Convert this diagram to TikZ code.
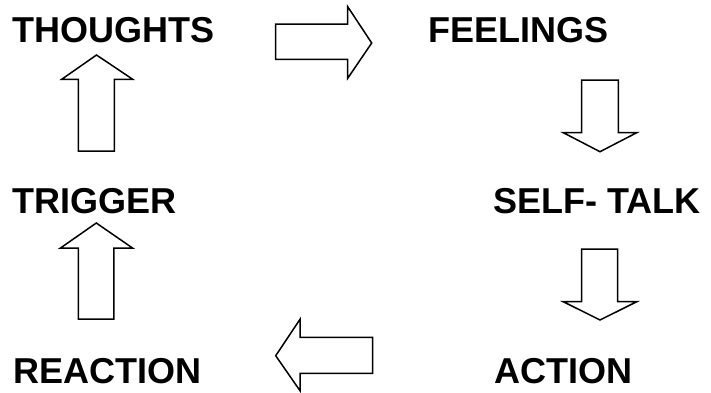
\documentclass[tikz,border=0pt]{standalone}
\usepackage{fontspec}
\setmainfont{Liberation Sans}
\begin{document}
\begin{tikzpicture}[x=1pt,y=-1pt,
        stage/.style={inner sep=0pt, text depth=0pt, anchor=base west, font=\bfseries\fontsize{36}{40}\selectfont},
        blockarrow/.style={draw=black, line width=1.5pt, line join=miter, fill=white}]
        \useasboundingbox (0,0) rectangle (711,392);
        % Etapas del ciclo
        \node[stage] (thoughts) at (12,42) {THOUGHTS};
        \node[stage] (feelings) at (428,42.5) {FEELINGS};
        \node[stage] (selftalk) at (493,213.5) {SELF- TALK};
        \node[stage] (trigger) at (12,213.5) {TRIGGER};
        \node[stage] (reaction) at (13,383.5) {REACTION};
        \node[stage] (action) at (494,383.5) {ACTION};

        % Flechas de bloque
        \draw[blockarrow] (275.7,24) -- (347.7,24) -- (347.7,6.7) -- (371.7,43)
            -- (347.7,78.3) -- (347.7,59.3) -- (275.7,59.3) -- cycle;
        \draw[blockarrow] (581.7,80) -- (618.3,80) -- (618.3,132.7) -- (636.7,132.7)
            -- (600,151.7) -- (563.3,132.7) -- (581.7,132.7) -- cycle;
        \draw[blockarrow] (581.7,249) -- (617.5,249) -- (617.5,301.7) -- (636.7,301.7)
            -- (600,320) -- (563.3,301.7) -- (581.7,301.7) -- cycle;
        \draw[blockarrow] (372.7,337.3) -- (300,337.3) -- (300,319.3) -- (275.7,355.7)
            -- (300,390.7) -- (300,373.3) -- (372.7,373.3) -- cycle;
        \draw[blockarrow] (78.3,319) -- (113.8,319) -- (113.8,248) -- (132.5,248)
            -- (96.3,223) -- (60.5,248) -- (78.3,248) -- cycle;
        \draw[blockarrow] (78.3,151) -- (114.3,151) -- (114.3,79.3) -- (132.7,79.3)
            -- (96.5,55) -- (61.7,79.3) -- (78.3,79.3) -- cycle;
\end{tikzpicture}
\end{document}
